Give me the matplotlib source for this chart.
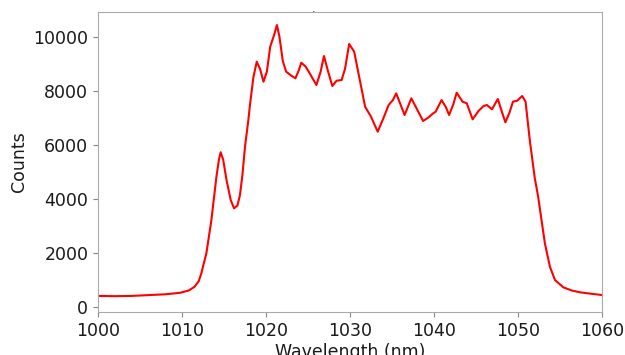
import numpy as np
import matplotlib
matplotlib.use("Agg")
import matplotlib.pyplot as plt

# wavelength (nm) and counts
wavelength = [1000.0, 1002.0, 1004.0, 1006.0, 1008.0, 1009.0, 1009.8, 1010.8, 1011.5,
              1012.0, 1012.3, 1012.9, 1013.5, 1014.1, 1014.4, 1014.6, 1014.9, 1015.3,
              1015.8, 1016.2, 1016.6, 1016.9, 1017.2, 1017.5, 1017.9, 1018.1, 1018.5,
              1018.9, 1019.3, 1019.7, 1020.1, 1020.5, 1021.0, 1021.3, 1021.6, 1022.0,
              1022.4, 1023.0, 1023.5, 1023.9, 1024.2, 1024.7, 1025.2, 1026.0, 1026.5,
              1026.9, 1027.4, 1027.9, 1028.4, 1029.0, 1029.4, 1029.9, 1030.5, 1031.1,
              1031.8, 1032.5, 1033.3, 1034.0, 1034.6, 1035.1, 1035.5, 1036.0, 1036.5,
              1037.3, 1038.0, 1038.7, 1039.3, 1039.9, 1040.2, 1040.9, 1041.4, 1041.8,
              1042.3, 1042.7, 1043.4, 1043.9, 1044.6, 1045.3, 1045.9, 1046.3, 1046.9,
              1047.6, 1048.1, 1048.5, 1049.0, 1049.4, 1049.9, 1050.5, 1050.9, 1051.4,
              1052.0, 1052.4, 1053.2, 1053.8, 1054.4, 1055.4, 1056.4, 1057.4, 1058.7,
              1060.0]
counts = [400, 390, 400, 430, 460, 490, 519, 600, 741,
          950, 1237, 1978, 3211, 4815, 5450, 5719, 5450, 4693,
          3950, 3644, 3750, 4137, 4900, 5926, 6915, 7500, 8500,
          9074, 8800, 8333, 8700, 9630, 10100, 10433, 10000, 9100,
          8704, 8560, 8459, 8750, 9037, 8900, 8644, 8211, 8700,
          9285, 8700, 8174, 8370, 8396, 8800, 9730, 9444, 8500,
          7407, 7037, 6481, 7000, 7470, 7650, 7900, 7500, 7100,
          7719, 7300, 6878, 7000, 7163, 7222, 7655, 7400, 7100,
          7500, 7926, 7593, 7533, 6941, 7250, 7433, 7470, 7311,
          7693, 7200, 6830, 7200, 7593, 7630, 7804, 7593, 6174,
          4756, 4074, 2348, 1481, 989, 718, 600, 533, 480,
          433]

fig = plt.figure(figsize=(6.25, 3.55), dpi=100)
ax = fig.add_axes([0.1568, 0.1211, 0.8064, 0.8451])

ax.plot(wavelength, counts, color='red', lw=1.5)

ax.set_xlim(1000, 1060)
ax.set_ylim(-196, 10915)
ax.set_xticks([1000, 1010, 1020, 1030, 1040, 1050, 1060])
ax.set_yticks([0, 2000, 4000, 6000, 8000, 10000])

for s in ax.spines.values():
    s.set_color('#aaaaaa')
ax.tick_params(colors='#888888', labelcolor='#1a1a1a', labelsize=12.5)

ax.set_xlabel('Wavelength (nm)', fontsize=12.5, color='#1a1a1a', labelpad=2)
ax.set_ylabel('Counts', fontsize=12.5, color='#1a1a1a')
# the small mark above the axes in the reference
ax.text(0.427, 1.0, '.', transform=ax.transAxes, ha='center', va='baseline',
        fontsize=8, color='#1a1a1a')

fig.savefig('out.png', dpi=100)
